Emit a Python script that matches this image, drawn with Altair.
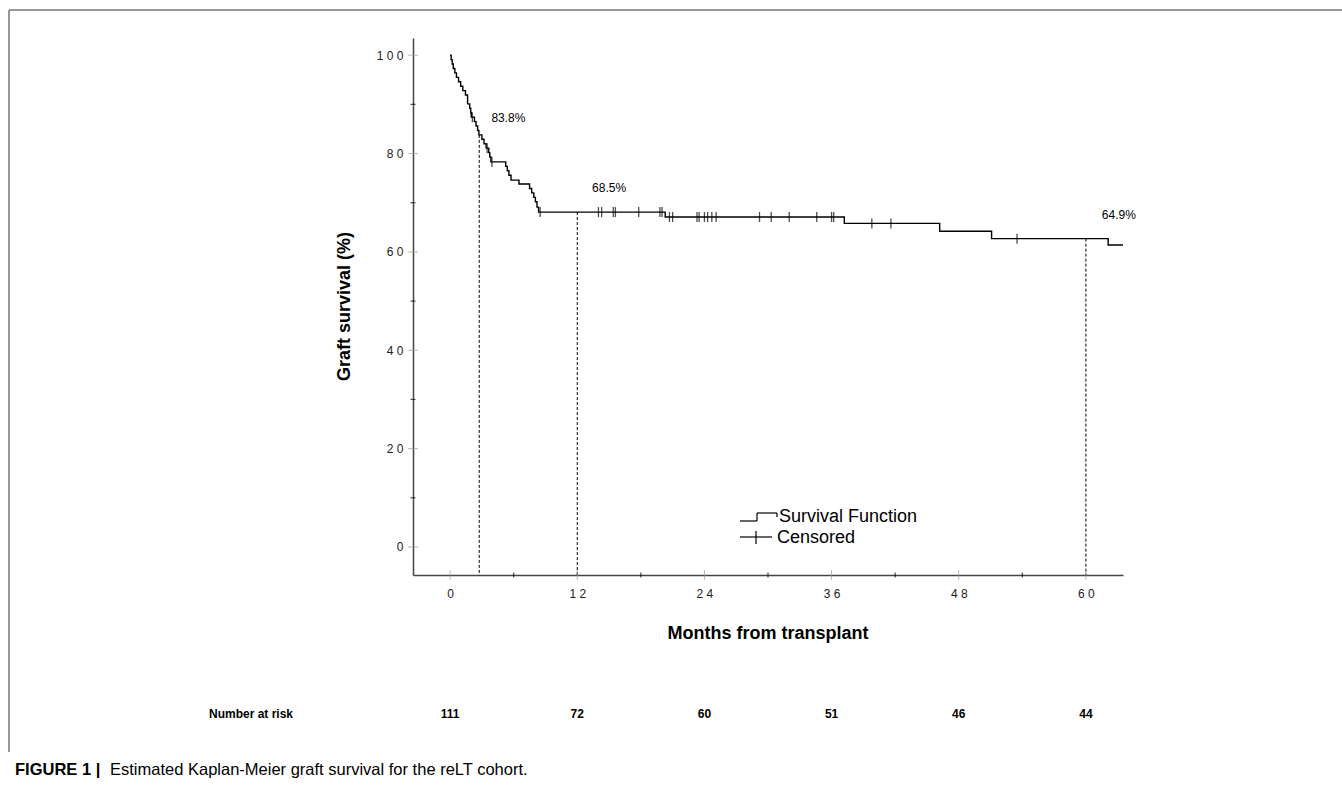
import altair as alt
import pandas as pd

FONT = "Liberation Sans"

# ---------------- Kaplan-Meier curve (months, graft survival %) ----------------
step_months = [0, 0.1, 0.2, 0.3, 0.45, 0.6, 0.8, 1.0, 1.2, 1.45, 1.65, 1.85, 1.95, 2.0,
               2.3, 2.45, 2.6, 2.72, 3.0, 3.2, 3.4, 3.65, 3.75, 3.85, 5.25, 5.4, 5.55,
               5.75, 6.5, 7.5, 7.7, 7.9, 8.05, 8.2, 8.35, 20.3, 37.2, 46.2, 51.1, 62.1, 63.5]
step_surv = [100, 99.1, 98.2, 97.3, 96.4, 95.5, 94.6, 93.7, 92.8, 91.9, 90.1, 89.2, 88.3, 87.4,
             86.5, 85.6, 84.7, 83.8, 82.9, 82.0, 81.1, 80.2, 79.3, 78.3, 77.4, 76.5, 75.6,
             74.6, 73.8, 72.9, 72.0, 71.1, 70.2, 69.1, 68.1, 67.1, 65.8, 64.2, 62.7, 61.4, 61.4]

censor_months = [2.1, 3.5, 3.95, 8.5, 14.0, 14.3, 15.4, 15.6, 17.8, 19.8, 20.0, 20.7, 21.0,
                 23.3, 23.5, 24.0, 24.3, 24.7, 25.1, 29.2, 30.3, 32.0, 34.6, 36.0, 36.2,
                 39.8, 41.6, 53.5]
censor_surv = [87.4, 81.1, 78.3, 68.1, 68.1, 68.1, 68.1, 68.1, 68.1, 68.1, 68.1, 67.1, 67.1,
               67.1, 67.1, 67.1, 67.1, 67.1, 67.1, 67.1, 67.1, 67.1, 67.1, 67.1, 67.1,
               65.8, 65.8, 62.7]

# ---------------- reference (dashed) lines and annotations ----------------
ref_months = [2.75, 12, 60]
ref_surv = [83.8, 68.1, 62.7]
ref_labels = ["83.8%", "68.5%", "64.9%"]
label_months = [3.9, 13.4, 61.5]
label_surv = [87.2, 73.0, 67.5]

# ---------------- axes ----------------
x_major = [0, 12, 24, 36, 48, 60]
x_minor = [6, 18, 30, 42, 54]
y_major = [0, 20, 40, 60, 80, 100]
y_minor = [10, 30, 50, 70, 90]
X_DOMAIN = [-3.5, 63.5]
Y_DOMAIN = [-5.7, 103.5]

# ---------------- number at risk ----------------
risk_months = [0, 12, 24, 36, 48, 60]
risk_counts = [111, 72, 60, 51, 46, 44]

W, H = 710, 537
PAD_L, PAD_T = 413, 38

km = pd.DataFrame({"month": step_months, "surv": step_surv})
cens = pd.DataFrame({"month": censor_months, "surv": censor_surv})
refs = pd.DataFrame({"month": ref_months, "surv": ref_surv, "ybot": Y_DOMAIN[0]})
labs = pd.DataFrame({"month": label_months, "surv": label_surv, "text": ref_labels})
xmaj = pd.DataFrame({"month": x_major, "surv": Y_DOMAIN[0]})
xmin = pd.DataFrame({"month": x_minor, "surv": Y_DOMAIN[0]})
ymaj = pd.DataFrame({"month": X_DOMAIN[0], "surv": y_major})
ymin = pd.DataFrame({"month": X_DOMAIN[0], "surv": y_minor})
risk = pd.DataFrame({"month": risk_months, "n": [str(c) for c in risk_counts]})
one = pd.DataFrame({"a": [0]})

xs = alt.Scale(domain=X_DOMAIN, nice=False, zero=False)
ys = alt.Scale(domain=Y_DOMAIN, nice=False, zero=False)

spaced = "join(split(datum.label, ''), ' ')"

xa = alt.Axis(values=x_major, ticks=False, grid=False, domainColor="#444", domainWidth=1.5,
              labelFont=FONT, labelFontSize=12, labelColor="#222", labelPadding=13,
              labelExpr=spaced, labelOverlap=False, labelFlush=False, title=None)
ya = alt.Axis(values=y_major, ticks=False, grid=False, domainColor="#444", domainWidth=1.5,
              labelFont=FONT, labelFontSize=12, labelColor="#222", labelPadding=10,
              labelExpr=spaced, labelOverlap=False, labelFlush=False, title=None)

X = alt.X("month:Q", scale=xs, axis=xa)
Y = alt.Y("surv:Q", scale=ys, axis=ya)

curve = alt.Chart(km).mark_line(interpolate="step-after", color="black", strokeWidth=1.4).encode(
    x=X, y=Y)

dashed = alt.Chart(refs).mark_rule(color="black", strokeWidth=1, strokeDash=[3, 2]).encode(
    x=X, y=Y, y2="ybot:Q")

censor = alt.Chart(cens).mark_tick(orient="vertical", size=10, thickness=1.3, color="black").encode(
    x=X, y=Y)

annot = alt.Chart(labs).mark_text(align="left", baseline="middle", font=FONT, fontSize=12,
                                  color="black").encode(x=X, y=Y, text="text:N")

xt_major = alt.Chart(xmaj).mark_tick(orient="vertical", size=10, thickness=1, color="#9a9a9a").encode(
    x=X, y=Y)
xt_minor = alt.Chart(xmin).mark_tick(orient="vertical", size=5, thickness=1.2, color="black").encode(
    x=X, y=Y)
yt_major = alt.Chart(ymaj).mark_tick(orient="horizontal", size=10, thickness=1, color="#9a9a9a").encode(
    x=X, y=Y)
yt_minor = alt.Chart(ymin).mark_tick(orient="horizontal", size=5, thickness=1.2, color="black").encode(
    x=X, y=Y)

# axis titles
x_title = alt.Chart(one).mark_text(text="Months from transplant", font=FONT, fontSize=18,
                                   fontWeight="bold", align="center", baseline="middle").encode(
    x=alt.value(W / 2), y=alt.value(634 - PAD_T))
y_title = alt.Chart(one).mark_text(text="Graft survival (%)", font=FONT, fontSize=18,
                                   fontWeight="bold", align="center", baseline="middle",
                                   angle=270).encode(
    x=alt.value(345 - PAD_L), y=alt.value(H / 2))

# legend (drawn glyphs)
lg = "black"
leg_sf = [
    alt.Chart(one).mark_rule(color=lg, strokeWidth=1.2).encode(
        x=alt.value(740 - PAD_L), x2=alt.value(757 - PAD_L), y=alt.value(521 - PAD_T)),
    alt.Chart(one).mark_rule(color=lg, strokeWidth=1.2).encode(
        x=alt.value(757 - PAD_L), y=alt.value(513 - PAD_T), y2=alt.value(521 - PAD_T)),
    alt.Chart(one).mark_rule(color=lg, strokeWidth=1.2).encode(
        x=alt.value(757 - PAD_L), x2=alt.value(777 - PAD_L), y=alt.value(513 - PAD_T)),
    alt.Chart(one).mark_rule(color=lg, strokeWidth=1.2).encode(
        x=alt.value(777 - PAD_L), y=alt.value(513 - PAD_T), y2=alt.value(517 - PAD_T)),
    alt.Chart(one).mark_rule(color=lg, strokeWidth=1.2).encode(
        x=alt.value(740 - PAD_L), x2=alt.value(772 - PAD_L), y=alt.value(537 - PAD_T)),
    alt.Chart(one).mark_rule(color=lg, strokeWidth=1.2).encode(
        x=alt.value(756 - PAD_L), y=alt.value(531 - PAD_T), y2=alt.value(544 - PAD_T)),
]
leg_txt1 = alt.Chart(one).mark_text(text="Survival  Function", font=FONT, fontSize=18,
                                    align="left", baseline="middle").encode(
    x=alt.value(779 - PAD_L), y=alt.value(517 - PAD_T))
leg_txt2 = alt.Chart(one).mark_text(text="Censored", font=FONT, fontSize=18,
                                    align="left", baseline="middle").encode(
    x=alt.value(777 - PAD_L), y=alt.value(538 - PAD_T))

# number at risk row
risk_lbl = alt.Chart(one).mark_text(text="Number at risk", font=FONT, fontSize=12,
                                    fontWeight="bold", align="left", baseline="middle").encode(
    x=alt.value(209 - PAD_L), y=alt.value(714 - PAD_T))
risk_nums = alt.Chart(risk).mark_text(font=FONT, fontSize=12, fontWeight="bold",
                                      align="center", baseline="middle").encode(
    x=X, y=alt.value(714 - PAD_T), text="n:N")

# caption and frame
cap1 = alt.Chart(one).mark_text(text="FIGURE 1 |", font=FONT, fontSize=16.5, fontWeight="bold",
                                align="left", baseline="middle").encode(
    x=alt.value(15 - PAD_L), y=alt.value(770 - PAD_T))
cap2 = alt.Chart(one).mark_text(text="Estimated Kaplan-Meier graft survival for the reLT cohort.",
                                font=FONT, fontSize=16.5, align="left", baseline="middle").encode(
    x=alt.value(110 - PAD_L), y=alt.value(770 - PAD_T))
frame_top = alt.Chart(one).mark_rule(color="#777", strokeWidth=1.5).encode(
    x=alt.value(9 - PAD_L), x2=alt.value(1342 - PAD_L), y=alt.value(10 - PAD_T))
frame_left = alt.Chart(one).mark_rule(color="#777", strokeWidth=1.5).encode(
    x=alt.value(9 - PAD_L), y=alt.value(10 - PAD_T), y2=alt.value(752 - PAD_T))

chart = alt.layer(
    curve, dashed, censor, annot, xt_major, xt_minor, yt_major, yt_minor,
    x_title, y_title, *leg_sf, leg_txt1, leg_txt2, risk_lbl, risk_nums,
    cap1, cap2, frame_top, frame_left,
).properties(
    width=W, height=H,
    padding={"left": PAD_L, "top": PAD_T, "right": 1342 - PAD_L - W, "bottom": 785 - PAD_T - H},
    autosize=alt.AutoSizeParams(type="none"),
    background="white",
).configure_view(stroke=None)

chart.save("out.html", embed_options={"renderer": "svg", "actions": False})
